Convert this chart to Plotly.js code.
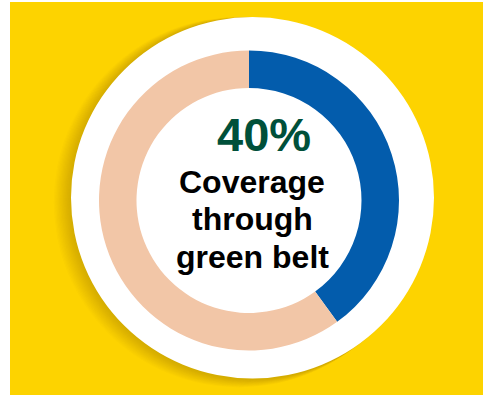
<!DOCTYPE html>
<html>
<head>
<meta charset="utf-8">
<script src="https://cdn.plot.ly/plotly-3.0.1.min.js"></script>
<style>html,body{margin:0;padding:0;background:#fff;}#chart{width:483px;height:396px;}</style>
</head>
<body>
<div id="chart"></div>
<script>
const labels = ["Coverage through green belt", "Remaining"];
const values = [40, 60];
const sliceColors = ["#035CAC", "#F2C6A7"];
const headline = "40%";
const captionLines = ["Coverage", "through", "green belt"];

const W = 483, H = 396;
const px = x => x / W;
const py = y => 1 - y / H;

const shapes = [
  {type: "rect", xref: "paper", yref: "paper", x0: px(10), x1: px(483), y0: py(395), y1: py(2),
   fillcolor: "#FDD300", line: {width: 0}, layer: "below"}
];
// soft shadow on the left side of the white disc
for (let k = 14; k >= 1; k--) {
  const r = 181 + k * 0.3;
  const cx = 253 - k * 1.0, cy = 198 + k * 0.3;
  shapes.push({type: "circle", xref: "paper", yref: "paper",
    x0: px(cx - r), x1: px(cx + r), y0: py(cy + r), y1: py(cy - r),
    fillcolor: "rgba(130,95,0,0.028)", line: {width: 0}, layer: "below"});
}
shapes.push({type: "circle", xref: "paper", yref: "paper",
  x0: px(71), x1: px(434), y0: py(378.5), y1: py(17),
  fillcolor: "#FFFFFF", line: {width: 0}, layer: "below"});

const annotations = [
  {text: "<b>" + headline + "</b>", x: px(264), y: py(134), xref: "paper", yref: "paper",
   showarrow: false, xanchor: "center", yanchor: "middle",
   font: {family: "Liberation Sans, Arial, sans-serif", size: 47, color: "#00503A"}},
];
const baselines = [193, 230, 268];
captionLines.forEach((t, i) => {
  annotations.push({text: "<b>" + t + "</b>", x: px(252), y: py(baselines[i] - 11), xref: "paper", yref: "paper",
    showarrow: false, xanchor: "center", yanchor: "middle",
    font: {family: "Liberation Sans, Arial, sans-serif", size: 32, color: "#000000"}});
});

const data = [{
  type: "pie", labels: labels, values: values, sort: false, direction: "clockwise", rotation: 0,
  hole: 0.75, textinfo: "none", hoverinfo: "none",
  marker: {colors: sliceColors, line: {width: 0}},
  domain: {x: [px(99), px(399)], y: [py(350.5), py(50.5)]}
}];

const layout = {
  width: W, height: H, margin: {l: 0, r: 0, t: 0, b: 0},
  paper_bgcolor: "#FFFFFF", showlegend: false,
  shapes: shapes, annotations: annotations
};
Plotly.newPlot("chart", data, layout, {displayModeBar: false, staticPlot: true});
</script>
</body>
</html>
